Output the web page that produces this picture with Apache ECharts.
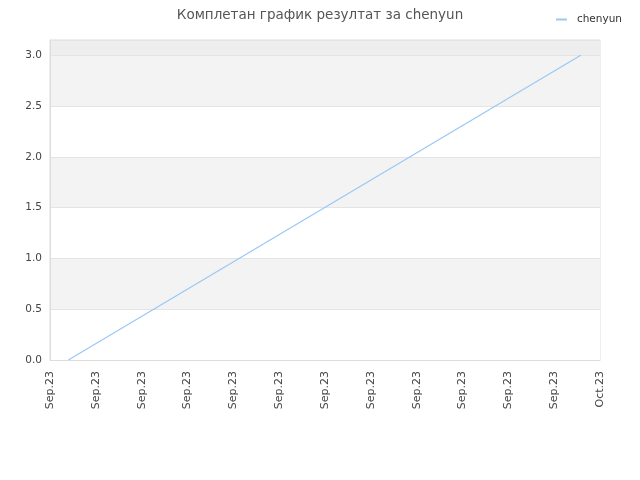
<!DOCTYPE html>
<html>
<head>
<meta charset="utf-8">
<script src="https://cdn.jsdelivr.net/npm/echarts@6/dist/echarts.min.js"></script>
<style>
html, body { margin: 0; padding: 0; background: #fff; }
#chart { width: 640px; height: 480px; }
</style>
</head>
<body>
<div id="chart"></div>
<script>
// tick labels along the x axis (one every 2.5 days from Sep 1 to Oct 1)
var tickLabels = ['Sep.23', 'Sep.23', 'Sep.23', 'Sep.23', 'Sep.23', 'Sep.23', 'Sep.23',
	'Sep.23', 'Sep.23', 'Sep.23', 'Sep.23', 'Sep.23', 'Oct.23'];
// days since Sep 1 2023
var seriesDays = [1, 28.95];
var seriesValues = [0, 3];
var seriesName = 'chenyun';

var chart = echarts.init(document.getElementById('chart'));

var points = [];
for (var i = 0; i < seriesDays.length; i++) {
	points.push([seriesDays[i], seriesValues[i]]);
}

var option = {
	animation : false,
	textStyle : {
		fontFamily : 'DejaVu Sans'
	},
	title : {
		text : 'Комплетан график резултат за ' + seriesName,
		left : 'center',
		top : 3,
		textStyle : {
			fontSize : 13.5,
			fontWeight : 'normal',
			color : '#555'
		}
	},
	legend : {
		right : 13,
		top : 9,
		itemWidth : 11,
		itemHeight : 2,
		itemGap : 6,
		icon : 'rect',
		textStyle : {
			fontSize : 10.5,
			color : '#333',
			padding : [0, 0, 0, 5]
		},
		data : [ seriesName ]
	},
	grid : {
		left : 50,
		right : 40,
		top : 40,
		bottom : 120,
		show : true,
		borderColor : '#dddddd',
		borderWidth : 1
	},
	xAxis : {
		type : 'value',
		min : 0,
		max : 30,
		interval : 2.5,
		axisLine : { lineStyle : { color : '#ddd' } },
		axisTick : { show : false },
		splitLine : { show : false },
		axisLabel : {
			rotate : 90,
			fontSize : 11,
			color : '#444',
			margin : 11,
			formatter : function(v) {
				return tickLabels[Math.round(v / 2.5)];
			}
		}
	},
	yAxis : {
		type : 'value',
		min : 0,
		max : 3.15,
		interval : 0.5,
		axisLine : { show : true, lineStyle : { color : '#ddd' } },
		axisTick : { show : false },
		axisLabel : {
			fontSize : 10.5,
			color : '#444',
			showMaxLabel : false,
			formatter : function(v) {
				return v.toFixed(1);
			}
		},
		splitLine : { lineStyle : { color : '#e4e4e4' } },
		splitArea : {
			show : true,
			areaStyle : {
				color : [ '#ffffff', '#f3f3f3', '#ffffff', '#f3f3f3', '#ffffff', '#f3f3f3', '#eeeeee' ]
			}
		}
	},
	series : [ {
		name : seriesName,
		type : 'line',
		data : points,
		showSymbol : false,
		symbol : 'none',
		lineStyle : { width : 1.2, color : '#99c8f5' },
		itemStyle : { color : '#99c8f5' }
	} ]
};

chart.setOption(option);
</script>
</body>
</html>
